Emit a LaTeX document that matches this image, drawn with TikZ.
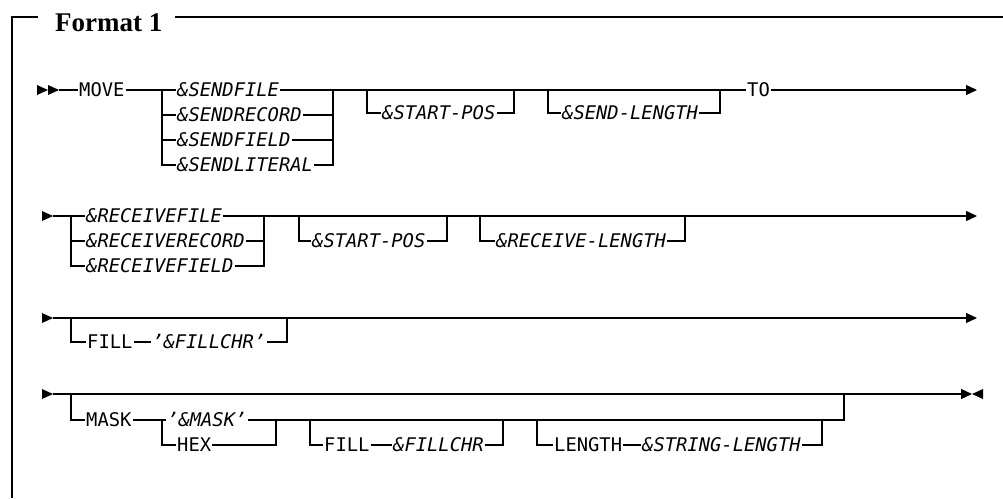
\documentclass[tikz,border=0pt]{standalone}
\usepackage{fontspec}
\newfontfamily\rrfont{DejaVu Sans Mono}
\newfontfamily\titlefont{Liberation Serif}
\usetikzlibrary{arrows.meta}

\tikzset{
    kw/.style={font=\rrfont\fontsize{18.8}{20}\selectfont, anchor=west,
        inner xsep=1pt, inner ysep=0pt, text height=13.7pt, text depth=0pt},
    var/.style={kw, font=\rrfont\itshape\fontsize{18.8}{20}\selectfont},
    rail/.style={line width=1.2pt},
    endarrow/.style={rail, -{Triangle[length=11pt,width=10pt]}},
}

\begin{document}
\begin{tikzpicture}[x=1pt, y=-1pt]
\useasboundingbox (0,0) rectangle (1003,498);
\node[font=\titlefont\bfseries\fontsize{27}{30}\selectfont, anchor=base west, inner sep=0pt] (title) at (55,31) {Format 1};
\draw[rail] (38,17) -- (12,17) -- (12,498);
\draw[rail] (175,17) -- (1003,17);

\fill (37,85) -- (48,90) -- (37,95) -- cycle;
\fill (48,85) -- (59,90) -- (48,95) -- cycle;
\coordinate (start1) at (59,90);
\coordinate (end1) at (977,90);
\node[kw] (move) at (78,90) {MOVE};
\node[var] (sfile) at (176,90) {\&SENDFILE};
\node[var] (srec) at (176,115) {\&SENDRECORD};
\node[var] (sfield) at (176,140) {\&SENDFIELD};
\node[var] (slit) at (176,165) {\&SENDLITERAL};
\coordinate (c1l) at (162,90);
\coordinate (c1r) at (333,90);
\node[var] (spos1) at (381,113) {\&START-POS};
\node[var] (slen) at (561,113) {\&SEND-LENGTH};
\node[kw] (to) at (746,90) {TO};
\draw[rail] (start1) -- (move.west);
\draw[rail] (move.east) -- (sfile.west);
\draw[rail] (sfile.east) -- (to.west);
\draw[endarrow] (to.east) -- (end1);
\draw[rail] (c1l) |- (slit.west);
\draw[rail] (c1l |- srec) -- (srec.west);
\draw[rail] (c1l |- sfield) -- (sfield.west);
\draw[rail] (slit.east) -| (c1r);
\draw[rail] (srec.east) -- (c1r |- srec);
\draw[rail] (sfield.east) -- (c1r |- sfield);
\draw[rail] (367,90) |- (spos1.west);
\draw[rail] (spos1.east) -| (514,90);
\draw[rail] (548,90) |- (slen.west);
\draw[rail] (slen.east) -| (720,90);

\fill (42,211) -- (53,216) -- (42,221) -- cycle;
\coordinate (start2) at (53,216);
\coordinate (end2) at (977,216);
\node[var] (rfile) at (85,216) {\&RECEIVEFILE};
\node[var] (rrec) at (85,241) {\&RECEIVERECORD};
\node[var] (rfield) at (85,266) {\&RECEIVEFIELD};
\coordinate (c2l) at (71,216);
\coordinate (c2r) at (264,216);
\node[var] (spos2) at (311,241) {\&START-POS};
\node[var] (rlen) at (495,241) {\&RECEIVE-LENGTH};
\draw[rail] (start2) -- (rfile.west);
\draw[endarrow] (rfile.east) -- (end2);
\draw[rail] (c2l) |- (rfield.west);
\draw[rail] (c2l |- rrec) -- (rrec.west);
\draw[rail] (rfield.east) -| (c2r);
\draw[rail] (rrec.east) -- (c2r |- rrec);
\draw[rail] (299,216) |- (spos2.west);
\draw[rail] (spos2.east) -| (447,216);
\draw[rail] (480,216) |- (rlen.west);
\draw[rail] (rlen.east) -| (685,216);

\fill (42,313) -- (53,318) -- (42,323) -- cycle;
\coordinate (start3) at (53,318);
\coordinate (end3) at (977,318);
\node[kw] (fill3) at (86,342) {FILL};
\node[var] (fchr3) at (151,342) {’\&FILLCHR’\ };
\draw[endarrow] (start3) -- (end3);
\draw[rail] (71,318) |- (fill3.west);
\draw[rail] (fill3.east) -- (fchr3.west);
\draw[rail] (fchr3.east) -| (287,318);

\fill (42,389) -- (53,394) -- (42,399) -- cycle;
\fill (983,389) -- (972,394) -- (983,399) -- cycle;
\coordinate (start4) at (53,394);
\coordinate (end4) at (972,394);
\node[kw] (mask) at (85,420) {MASK};
\node[var] (mlit) at (166,420) {’\&MASK’\ };
\node[kw] (hex) at (176,445) {HEX};
\coordinate (c4l) at (162,420);
\coordinate (c4r) at (276,420);
\node[kw] (fill4) at (323,445) {FILL};
\node[var] (fchr4) at (392,445) {\&FILLCHR};
\node[kw] (len) at (553,445) {LENGTH};
\node[var] (strlen) at (641,445) {\&STRING-LENGTH};
\draw[endarrow] (start4) -- (end4);
\draw[rail] (71,394) |- (mask.west);
\draw[rail] (mask.east) -- (mlit.west);
\draw[rail] (mlit.east) -- (844,420) -- (844,394);
\draw[rail] (c4l) |- (hex.west);
\draw[rail] (hex.east) -| (c4r);
\draw[rail] (310,420) |- (fill4.west);
\draw[rail] (fill4.east) -- (fchr4.west);
\draw[rail] (fchr4.east) -| (503,420);
\draw[rail] (537,420) |- (len.west);
\draw[rail] (len.east) -- (strlen.west);
\draw[rail] (strlen.east) -| (822,420);
\end{tikzpicture}
\end{document}
